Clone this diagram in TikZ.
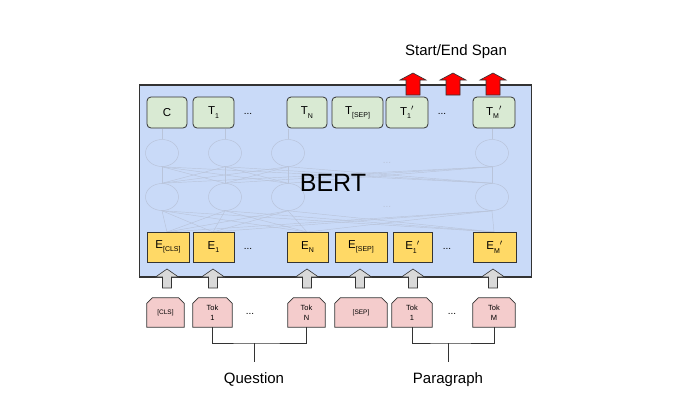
\documentclass[tikz,border=0pt]{standalone}
\usepackage{fontspec}
\setmainfont{Liberation Sans}
\usetikzlibrary{calc,shapes.geometric}
\definecolor{bertblue}{HTML}{C9DAF8}
\definecolor{tgreen}{HTML}{D9EAD3}
\definecolor{eyellow}{HTML}{FFD966}
\definecolor{tokred}{HTML}{F4CCCC}
\definecolor{edge}{HTML}{333333}
\definecolor{faint}{HTML}{B9C4DA}
\definecolor{arrgray}{HTML}{D9D9D9}
\newcommand{\sbs}[1]{\raisebox{-0.55ex}{\fontsize{7}{8}\selectfont #1}}
\tikzset{
  tbox/.style={draw=edge, line width=0.8pt, fill=tgreen, rounded corners=4pt, minimum height=31pt, inner sep=0pt, font=\fontsize{11.5}{12}\selectfont},
  ebox/.style={draw=edge, line width=0.8pt, fill=eyellow, minimum height=30pt, inner sep=0pt, font=\fontsize{11.5}{12}\selectfont},
  tokbox/.style={minimum height=29pt, inner sep=0pt, align=center, font=\fontsize{7.5}{10}\selectfont},
  dots/.style={font=\fontsize{10}{12}\selectfont, inner sep=0pt},
  lbl/.style={font=\fontsize{15}{17}\selectfont, inner sep=0pt},
  neuron/.style={draw=faint, line width=0.5pt, ellipse, minimum width=33pt, minimum height=27pt, inner sep=0pt},
  net/.style={draw=faint, line width=0.45pt},
  blockarrow/.pic={\draw[pic actions] (-4.5,0) -- (-4.5,-11) -- (-11.5,-11) -- (0,-19) -- (11.5,-11) -- (4.5,-11) -- (4.5,0) -- cycle;},
  redarrow/.pic={\draw[pic actions] (-7,0) -- (-7,-15) -- (-13,-15) -- (0,-22) -- (13,-15) -- (7,-15) -- (7,0) -- cycle;},
}
\begin{document}
\begin{tikzpicture}[x=1pt,y=-1pt]
\useasboundingbox (0,0) rectangle (682,405);
% BERT box
\node[draw=edge, line width=1.6pt, fill=bertblue, minimum width=392pt, minimum height=192pt, inner sep=0pt] (bert) at (335.5,181) {};
% faint network
\foreach \x/\n in {162/a,225/b,288/c,492/d}{
  \node[neuron] (u\n) at (\x,153) {};
  \node[neuron] (l\n) at (\x,197) {};
}
\foreach \s in {a,b,c,d}{\foreach \t in {a,b,c,d}{\draw[net] (l\s.north) -- (u\t.south);}}
\foreach \x/\t in {167/a,213/b,307/c,494/d}{\foreach \s in {a,b,c,d}{\draw[net] (\x,232) -- (l\s.south);}}
\node[dots, text=faint] (md1) at (387,163) {...};
\node[dots, text=faint] (md2) at (387,207) {...};
\node[font=\fontsize{25}{28}\selectfont, inner sep=0pt] (bertlbl) at (333,183) {BERT};
% T boxes
\node[tbox, minimum width=40pt] (C) at (167,112.5) {C};
\node[tbox, minimum width=41pt] (T1) at (213.5,112.5) {T\sbs{1}};
\node[dots] (td1) at (248,114) {...};
\node[tbox, minimum width=40pt] (TN) at (307,112.5) {T\sbs{N}};
\node[tbox, minimum width=51pt] (TSEP) at (357.5,112.5) {T\sbs{[SEP]}};
\node[tbox, minimum width=42pt] (T1p) at (407,112.5) {T\sbs{1}$'$};
\node[dots] (td2) at (442,114) {...};
\node[tbox, minimum width=42pt] (TMp) at (494,112.5) {T\sbs{M}$'$};
\foreach \n/\x in {C/162,T1/225,TN/288,TMp/492}{\draw[net] (\x,139) -- (\x,129);}
% E boxes
\node[ebox, minimum width=42pt] (ECLS) at (168,247) {E\sbs{[CLS]}};
\node[ebox, minimum width=41pt] (E1) at (213.5,247) {E\sbs{1}};
\node[dots] (ed1) at (248,249) {...};
\node[ebox, minimum width=41pt] (EN) at (307.5,247) {E\sbs{N}};
\node[ebox, minimum width=52pt] (ESEP) at (361,247) {E\sbs{[SEP]}};
\node[ebox, minimum width=39pt] (E1p) at (412.5,247) {E\sbs{1}$'$};
\node[dots] (ed2) at (447,249) {...};
\node[ebox, minimum width=43pt] (EMp) at (494.5,247) {E\sbs{M}$'$};
% red output arrows
\foreach \x in {413,453,493}{\pic[fill=red, draw=edge, line width=0.6pt] at (\x,95) {redarrow};}
\node[lbl] (span) at (456,52) {Start/End Span};
% gray input arrows
\foreach \x in {167,213,307,360,413,493}{\pic[fill=arrgray, draw=edge, line width=0.6pt] at (\x,288) {blockarrow};}
% token boxes
\foreach \n/\x/\w/\t in {CLS/165.5/37/{\fontsize{6.5}{7}\selectfont [CLS]},Tok1/212.5/39/{Tok\\1},TokN/306.5/37/{Tok\\N},SEP/361/52/{\fontsize{6.5}{7}\selectfont [SEP]},Tok1p/412/40/{Tok\\1},TokM/494/42/{Tok\\M}}{
  \node[tokbox, minimum width=\w pt] (\n) at (\x,312.5) {\t};
  \draw[draw=edge, line width=0.7pt, fill=tokred] (\n.south west) -- ($(\n.north west)+(0,5.5)$) -- ($(\n.north west)+(5.5,0)$) -- ($(\n.north east)+(-5.5,0)$) -- ($(\n.north east)+(0,5.5)$) -- (\n.south east) -- cycle;
  \node[tokbox, minimum width=\w pt] at (\n) {\t};
}
\node[dots] (kd1) at (250,314) {...};
\node[dots] (kd2) at (452,314) {...};
% brackets
\coordinate (qs) at (254,343);
\coordinate (ps) at (448,343);
\draw[edge, line width=0.7pt] (Tok1.south) |- (qs) -| (TokN.south);
\draw[edge, line width=0.7pt] (qs) -- ++(0,19);
\draw[edge, line width=0.7pt] (Tok1p.south) |- (ps) -| (TokM.south);
\draw[edge, line width=0.7pt] (ps) -- ++(0,19);
\node[lbl] (q) at (254,379) {Question};
\node[lbl] (p) at (448,380) {Paragraph};
\end{tikzpicture}
\end{document}
